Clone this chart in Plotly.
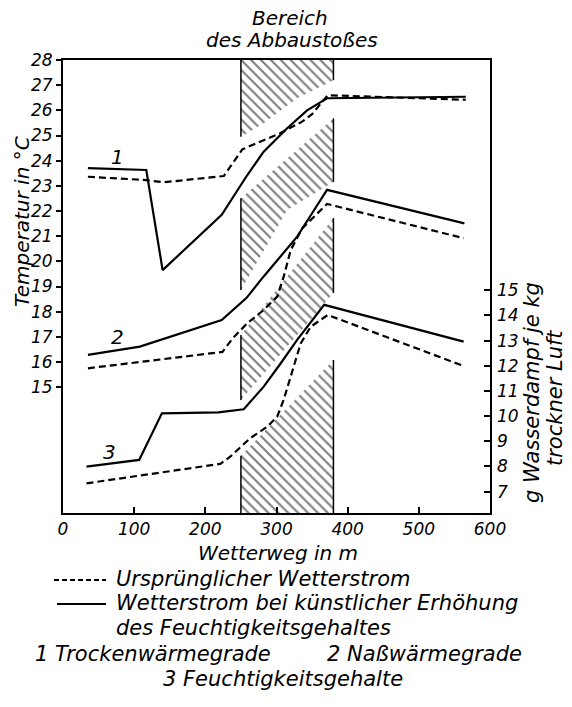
import plotly.graph_objects as go

# Wetterweg (m) and readings along the airway
# 1 Trockenwärmegrade (°C)
dry_art_m = [35, 117, 140, 223, 259, 282, 315, 343, 371, 566]
dry_art_t = [23.70, 23.63, 19.65, 21.85, 23.43, 24.36, 25.29, 26.00, 26.48, 26.54]
dry_orig_m = [35, 117, 141, 226, 240, 252, 275, 305, 336, 350, 372, 566]
dry_orig_t = [23.36, 23.23, 23.14, 23.39, 23.96, 24.45, 24.73, 25.09, 25.55, 25.85, 26.60, 26.42]

# 2 Naßwärmegrade (°C)
wet_art_m = [35, 108, 223, 258, 282, 306, 329, 350, 371, 564]
wet_art_t = [16.28, 16.61, 17.67, 18.55, 19.40, 20.19, 20.98, 21.91, 22.84, 21.51]
wet_orig_m = [35, 224, 239, 259, 282, 301, 310, 320, 336, 357, 371, 563]
wet_orig_t = [15.75, 16.40, 16.96, 17.54, 18.07, 18.60, 19.38, 20.45, 21.31, 21.91, 22.28, 20.92]

# 3 Feuchtigkeitsgehalt (g Wasserdampf je kg trockner Luft)
hum_art_m = [33, 107, 139, 218, 254, 282, 306, 329, 367, 563]
hum_art_g = [7.99, 8.26, 10.11, 10.15, 10.27, 11.17, 12.10, 13.03, 14.42, 12.96]
hum_orig_m = [33, 221, 235, 263, 287, 301, 310, 317, 334, 348, 372, 563]
hum_orig_g = [7.33, 8.10, 8.39, 9.12, 9.58, 9.98, 10.64, 11.31, 12.89, 13.55, 14.02, 11.99]

# Bereich des Abbaustoßes (m), hatched in blocks between the curve groups
face_start, face_end = 250, 380
hatch_blocks = [
    ([250, 380, 380, 366, 329, 282, 250], [28.0, 28.0, 27.2, 27.0, 26.48, 25.49, 24.95]),
    ([250, 380, 380, 315, 250], [22.51, 25.68, 23.15, 22.04, 18.86]),
    ([250, 380, 380, 250], [17.07, 21.72, 18.74, 14.49]),
    ([250, 380, 380, 250], [12.27, 16.08, 10.0, 10.0]),
]

x_ticks = [0, 100, 200, 300, 400, 500, 600]
t_ticks = list(range(15, 29))
g_ticks = list(range(7, 16))

FONT = "DejaVu Sans"
INK = "black"

W, H = 572, 707
L, R, T, B = 63, 82, 60, 194
PW, PH = W - L - R, H - T - B


def ifont(size):
    return dict(family=FONT, size=size, color=INK, style="italic")


def px(xp):
    return (xp - L) / PW


def py(yp):
    return (H - B - yp) / PH


fig = go.Figure()

# hatched face area
for bx, by in hatch_blocks:
    fig.add_trace(go.Scatter(
        x=bx, y=by, mode="lines", fill="toself",
        line=dict(width=0, color="rgba(0,0,0,0)"),
        fillcolor="white",
        fillpattern=dict(shape="\\", size=7, solidity=0.3, fgcolor=INK, bgcolor="white"),
        hoverinfo="skip", showlegend=False,
    ))
    # vertical borders of each block at the face limits
    left = [y for x, y in zip(bx, by) if x == face_start]
    right = [y for x, y in zip(bx, by) if x == face_end]
    for xv, ys in ((face_start, left), (face_end, right)):
        fig.add_trace(go.Scatter(
            x=[xv, xv], y=[min(ys), max(ys)], mode="lines",
            line=dict(color=INK, width=1.5), hoverinfo="skip", showlegend=False,
        ))

DASH = "7px,4px"


def curve(x, y, dashed, yaxis="y"):
    fig.add_trace(go.Scatter(
        x=x, y=y, mode="lines", yaxis=yaxis,
        line=dict(color=INK, width=2.2, dash=DASH if dashed else "solid"),
        hoverinfo="skip", showlegend=False,
    ))


curve(dry_orig_m, dry_orig_t, True)
curve(dry_art_m, dry_art_t, False)
curve(wet_orig_m, wet_orig_t, True)
curve(wet_art_m, wet_art_t, False)
curve(hum_orig_m, hum_orig_g, True, "y2")
curve(hum_art_m, hum_art_g, False, "y2")

ann = []
# curve numbers
for txt, xv, yv in (("1", 77, 24.15), ("2", 76, 17.0), ("3", 66, 12.43)):
    ann.append(dict(x=xv, y=yv, xref="x", yref="y", text=txt, showarrow=False,
                    font=ifont(20)))


def note(text, xp, yp, size=21, xanchor="center", angle=0):
    ann.append(dict(x=px(xp), y=py(yp), xref="paper", yref="paper", text=text,
                    showarrow=False, xanchor=xanchor, yanchor="middle",
                    textangle=angle, font=ifont(size)))


# heading over the face
note("Bereich", 290, 18, 20)
note("des Abbaustoßes", 292, 40, 20)

# axis titles
note("Wetterweg in m", 278, 553, 20)
note("Temperatur in °C", 22, 222, 20, angle=-90)
note("g Wasserdampf je kg", 532, 393, 21, angle=-90)
note("trockner Luft", 555, 398, 21, angle=-90)

# key below the chart
note("Ursprünglicher Wetterstrom", 114, 579, 21, "left")
note("Wetterstrom bei künstlicher Erhöhung", 114, 603, 21, "left")
note("des Feuchtigkeitsgehaltes", 114, 628, 21, "left")
note("1 Trockenwärmegrade", 153, 654, 21)
note("2 Naßwärmegrade", 424, 654, 21)
note("3 Feuchtigkeitsgehalte", 283, 679, 21)

shapes = [
    dict(type="line", xref="paper", yref="paper", x0=px(54), x1=px(106), y0=py(580), y1=py(580),
         line=dict(color=INK, width=2, dash="5px,3px")),
    dict(type="line", xref="paper", yref="paper", x0=px(57), x1=px(106), y0=py(604), y1=py(604),
         line=dict(color=INK, width=2)),
]

fig.update_layout(
    width=W, height=H,
    margin=dict(l=L, r=R, t=T, b=B),
    paper_bgcolor="white", plot_bgcolor="white",
    showlegend=False,
    annotations=ann,
    shapes=shapes,
    xaxis=dict(
        range=[0, 600], tickvals=x_ticks, ticks="inside", ticklen=6, tickwidth=1.5,
        tickcolor=INK, showline=True, mirror=True, linecolor=INK, linewidth=1.8,
        showgrid=False, zeroline=False, tickfont=ifont(17),
    ),
    yaxis=dict(
        range=[10, 28], tickvals=t_ticks, ticks="outside", ticklen=5, tickwidth=1.5,
        tickcolor=INK, showline=True, mirror=True, linecolor=INK, linewidth=1.8,
        showgrid=False, zeroline=False, tickfont=ifont(17),
    ),
    yaxis2=dict(
        range=[6.15, 24.15], tickvals=g_ticks, ticks="inside", ticklen=6, tickwidth=1.5,
        tickcolor=INK, overlaying="y", side="right", showline=False,
        showgrid=False, zeroline=False, tickfont=ifont(17), ticklabelstandoff=6,
    ),
)

fig.write_html("out.html")
